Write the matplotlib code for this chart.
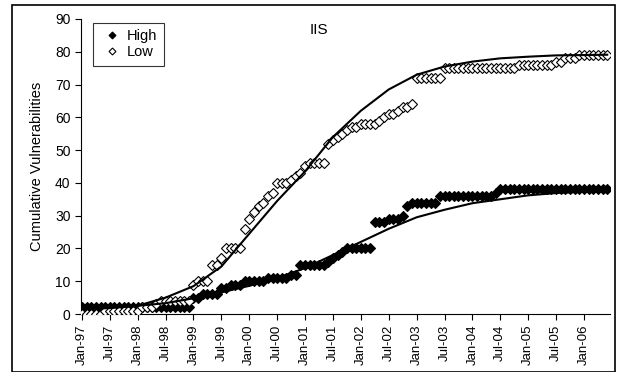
import numpy as np
import matplotlib.pyplot as plt
from matplotlib.patches import Rectangle

plt.rcParams['font.family'] = ['Liberation Sans', 'DejaVu Sans']

# monthly data, Jan-97 .. Jun-06
months = np.arange(114)

high = ([2] * 24 +
        [5, 5, 6, 6, 6, 6, 8, 8, 9, 9, 9, 10, 10, 10, 10, 10, 11, 11, 11, 11,
         11, 12, 12, 15, 15, 15, 15, 15, 15, 16, 17, 18, 19, 20, 20, 20, 20, 20, 20] +
        [28, 28, 28, 29, 29, 29, 30, 33, 34, 34, 34, 34, 34, 34] +
        [36] * 12 + [37] + [38] * 24)

low = ([0] * 5 + [1] * 8 + [2, 2, 2, 3] + [4] * 7 +
       [9, 10, 10, 10, 15, 15, 17, 20, 20, 20, 20, 26, 29, 31, 33, 34, 36, 37,
        40, 40, 40, 41, 42, 43, 45, 46, 46, 46, 46] +
       [52, 53, 54, 55, 56, 57, 57, 58, 58, 58, 58, 59, 60, 61, 61, 62, 63, 63, 64] +
       [72] * 6 + [75] * 16 + [76] * 8 + [77, 77, 78, 78, 78] + [79] * 7)

# fitted model curves
fit_months = [0, 6, 12, 18, 24, 30, 36, 42, 48, 54, 60, 66, 72, 78, 84, 90, 96, 102, 108, 113]
high_fit = [1.8, 2.0, 2.5, 3.3, 4.8, 6.6, 8.6, 11.0, 14.0, 18.0, 22.0, 26.0, 29.5,
            31.8, 33.8, 35.0, 36.2, 36.9, 37.3, 37.7]
low_fit = [1.5, 1.8, 2.5, 5.0, 8.5, 14.5, 24.5, 34.5, 43.5, 54.0, 62.0, 68.5, 73.0,
           75.5, 77.0, 78.0, 78.5, 78.9, 79.0, 79.1]

tick_pos = list(range(0, 114, 6))
tick_labels = ['Jan-97', 'Jul-97', 'Jan-98', 'Jul-98', 'Jan-99', 'Jul-99', 'Jan-00',
               'Jul-00', 'Jan-01', 'Jul-01', 'Jan-02', 'Jul-02', 'Jan-03', 'Jul-03',
               'Jan-04', 'Jul-04', 'Jan-05', 'Jul-05', 'Jan-06']

fig = plt.figure(figsize=(6.21, 3.72), dpi=100)
ax = fig.add_axes([81 / 621, 1 - 314 / 372, (610 - 81) / 621, (314 - 19) / 372])

ax.plot(months, high, linestyle='none', marker='D', ms=5, mfc='black', mec='black',
        mew=0.8, label='High', zorder=3)
ax.plot(months, low, linestyle='none', marker='D', ms=5, mfc='white', mec='black',
        mew=0.8, label='Low', zorder=3)
ax.plot(fit_months, high_fit, color='black', lw=1.5, zorder=4)
ax.plot(fit_months, low_fit, color='black', lw=1.5, zorder=4)

ax.set_xlim(-0.2, 113.6)
ax.set_ylim(0, 90)
ax.set_yticks(range(0, 91, 10))
ax.set_xticks(tick_pos)
ax.set_xticklabels(tick_labels, rotation=90, fontsize=9.5)
ax.tick_params(axis='y', labelsize=10, direction='out', length=4)
ax.tick_params(axis='x', direction='out', length=4)
ax.spines['top'].set_visible(False)
ax.spines['right'].set_visible(False)
ax.set_ylabel('Cumulative Vulnerabilities', fontsize=10.5)
ax.yaxis.set_label_coords(-0.07, 0.5)

ax.text(0.45, 0.963, 'IIS', transform=ax.transAxes, fontsize=11, ha='center', va='center')

leg = ax.legend(loc='upper left', bbox_to_anchor=(0.022, 0.988), fontsize=10.5,
                frameon=True, fancybox=False, edgecolor='black', handlelength=1.8,
                handletextpad=0.1, borderpad=0.45, labelspacing=0.15, markerscale=0.7,
                borderaxespad=0)
leg.get_frame().set_linewidth(0.8)

# outer border of the figure
fig.patches.append(Rectangle((12 / 621, 0.0), (615 - 12) / 621, 1 - 5 / 372,
                             transform=fig.transFigure, fill=False, edgecolor='black',
                             lw=1.2))

fig.savefig('out.png', dpi=100)
